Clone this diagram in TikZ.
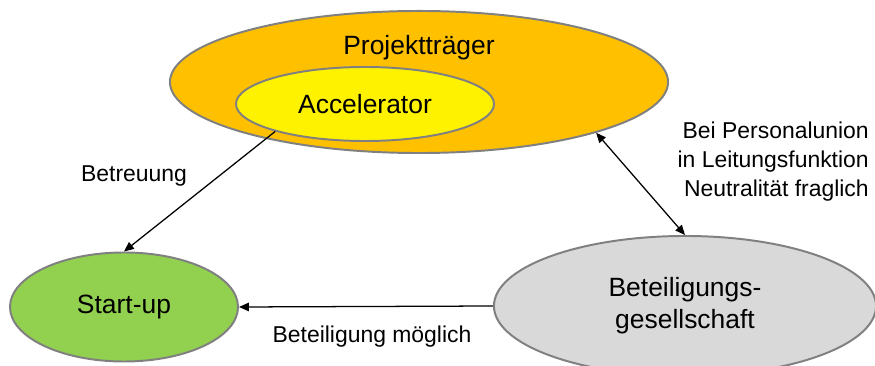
\documentclass[tikz,border=0pt]{standalone}
\usepackage{fontspec}
\setmainfont{Liberation Sans}
\usetikzlibrary{shapes.geometric,arrows.meta}

\begin{document}
\begin{tikzpicture}[x=0.025cm,y=-0.025cm]
\tikzstyle{every node}+=[inner sep=0pt]
\tikzstyle{blob}=[ellipse,draw=black!50,line width=1.4pt,font=\fontsize{18.8}{22.7}\selectfont,align=center]
\tikzstyle{note}=[font=\fontsize{16.3}{20.6}\selectfont]
\tikzstyle{link}=[line width=0.9pt,-{Triangle[length=7pt,width=6pt]}]
\useasboundingbox (0,0) rectangle (875,366);
\node [blob,fill={rgb,255:red,255;green,192;blue,0},minimum width=12.45cm,minimum height=3.55cm] (proj) at (419,82) {};
\node [font=\fontsize{18.8}{22.7}\selectfont] (projtxt) at (419,48) {Projektträger};
\node [blob,fill=yellow,minimum width=6.45cm,minimum height=1.85cm] (acc) at (365,104) {Accelerator};
\node [blob,fill={rgb,255:red,146;green,208;blue,80},minimum width=5.7cm,minimum height=2.725cm] (start) at (124,307) {Start-up};
\node [blob,fill={rgb,255:red,217;green,217;blue,217},minimum width=9.55cm,minimum height=3.5cm] (bet) at (685,306) {Beteiligungs-\\gesellschaft};
\draw [link] (acc.197) -- (start.north);
\draw [link,{Triangle[length=7pt,width=6pt]}-{Triangle[length=7pt,width=6pt]}] (proj.344) -- (bet.north);
\draw [link] (bet.west) -- (start.east);
\node [note] (betr) at (134,176) {Betreuung};
\node [note,align=right,anchor=east] (pers) at (869,162) {Bei Personalunion\\in Leitungsfunktion\\Neutralität fraglich};
\node [note] (moegl) at (372,337) {Beteiligung möglich};
\end{tikzpicture}
\end{document}
